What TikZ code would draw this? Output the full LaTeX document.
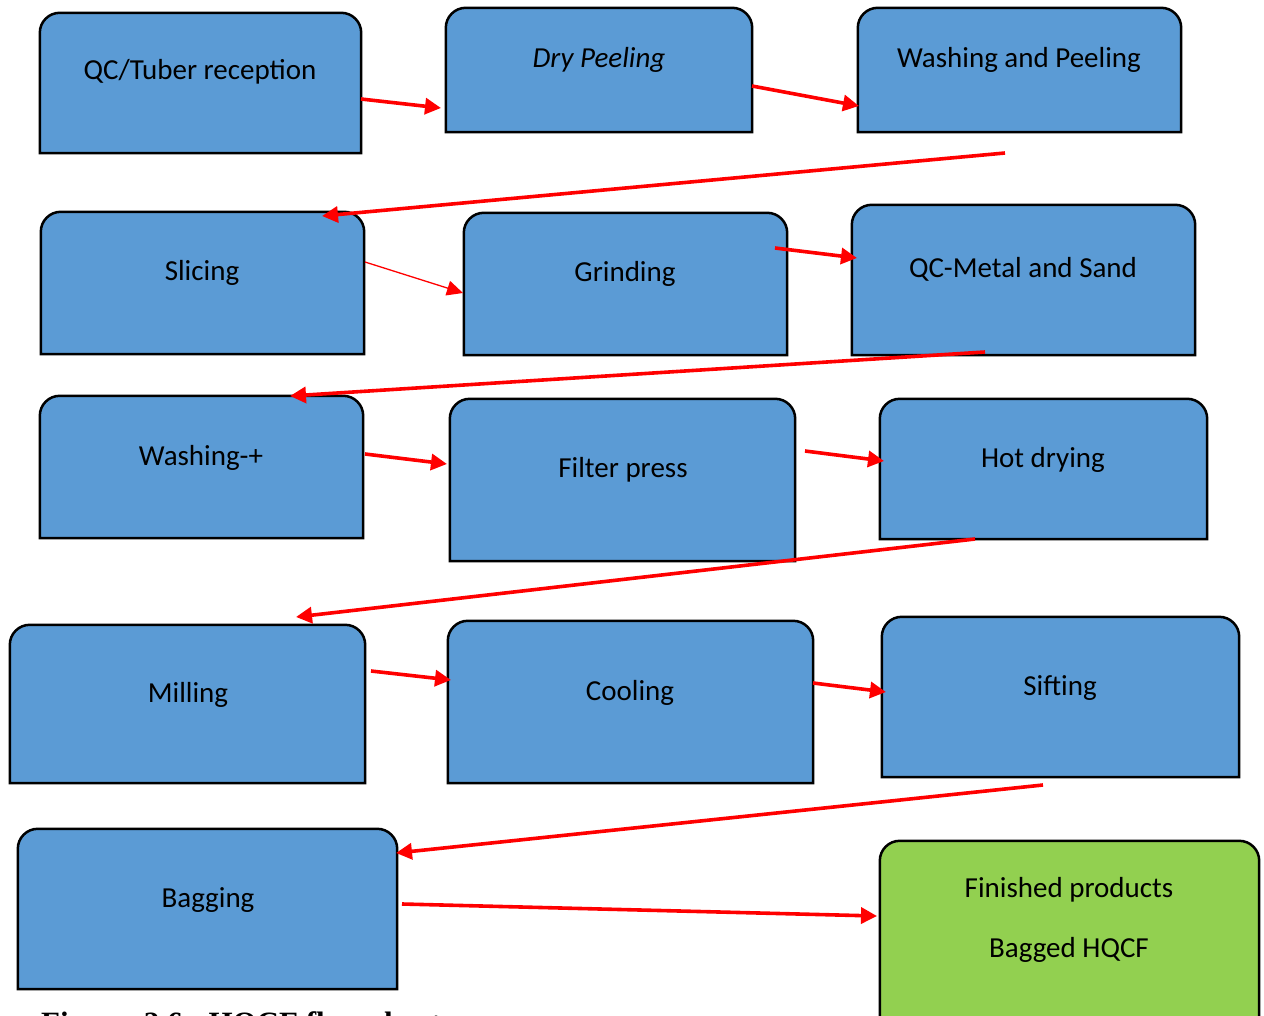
\documentclass[tikz,border=0pt]{standalone}
\usepackage{fontspec}
\setmainfont{Carlito}
\newfontfamily\capfont{Liberation Serif}
\usetikzlibrary{arrows.meta,fit,calc}
\definecolor{boxblue}{HTML}{5B9BD5}
\definecolor{boxgreen}{HTML}{92D050}
\definecolor{arrowred}{HTML}{FF0000}
\tikzset{
  shapeline/.style={draw=black, line width=2.5pt},
  txt/.style={font=\fontsize{29}{34}\selectfont, inner sep=0pt, anchor=base},
  flow/.style={draw=arrowred, line width=3.6pt, -{Triangle[length=16pt,width=16pt]}},
  thinflow/.style={draw=arrowred, line width=1.3pt, -{Triangle[length=16pt,width=15pt]}},
  captxt/.style={font=\capfont\bfseries\fontsize{31}{36}\selectfont, inner sep=0pt, anchor=base west},
}
\newcommand\procbox[6]{%
  \node[fit={(#2,-#3) (#4,-#5)}, inner sep=0pt] (#1) {};
  \draw[shapeline, fill=#6] (#1.south west) -- ([yshift=-20pt]#1.north west)
    arc[start angle=180,end angle=90,radius=20pt] -- ([xshift=-20pt]#1.north east)
    arc[start angle=90,end angle=0,radius=20pt] -- (#1.south east) -- cycle;
}
\begin{document}
\begin{tikzpicture}[x=1pt,y=1pt]
\useasboundingbox (0,0) rectangle (1264,-1016);
\fill[white] (0,0) rectangle (1264,-1016);

\procbox{qc}{40}{13}{361}{153}{boxblue}
\procbox{dry}{446}{8}{752}{132}{boxblue}
\procbox{wash}{858}{8}{1181}{132}{boxblue}
\procbox{slice}{41}{212}{364}{354}{boxblue}
\procbox{grind}{464}{213}{787}{355}{boxblue}
\procbox{metal}{852}{205}{1195}{355}{boxblue}
\procbox{washb}{40}{396}{363}{538}{boxblue}
\procbox{filter}{450}{399}{795}{561}{boxblue}
\procbox{hot}{880}{399}{1207}{539}{boxblue}
\procbox{mill}{10}{625}{365}{783}{boxblue}
\procbox{cool}{448}{621}{813}{783}{boxblue}
\procbox{sift}{882}{617}{1239}{777}{boxblue}
\procbox{bag}{18}{829}{397}{989}{boxblue}
\procbox{fin}{880}{841}{1259}{1040}{boxgreen}

\node[txt] (qct) at (200,-80) {QC/Tuber reception};
\node[txt] (dryt) at (599,-68) {\itshape Dry Peeling};
\node[txt] (washt) at (1019,-68) {Washing and Peeling};
\node[txt] (slicet) at (202,-281) {Slicing};
\node[txt] (grindt) at (625,-282) {Grinding};
\node[txt] (metalt) at (1023,-278) {QC-Metal and Sand};
\node[txt] (washbt) at (201,-465) {Washing-+};
\node[txt] (filtert) at (623,-477) {Filter press};
\node[txt] (hott) at (1043,-467) {Hot drying};
\node[txt] (millt) at (188,-702) {Milling};
\node[txt] (coolt) at (630,-700) {Cooling};
\node[txt] (siftt) at (1060,-695) {Sifting};
\node[txt] (bagt) at (208,-907) {Bagging};
\node[txt] (fint) at (1069,-897) {Finished products};
\node[txt] (fint2) at (1069,-957) {Bagged HQCF};

\node[captxt] (cap) at (41,-1033) {Figure\ \ 2.6:\ \ HQCF flow chart};

% arrow end points
\coordinate (a1s) at (361,-99);   \coordinate (a1e) at (441,-108);
\coordinate (a2s) at (752,-86);   \coordinate (a2e) at (859,-106);
\coordinate (a3s) at (1005,-153); \coordinate (a3e) at (322,-216);
\coordinate (a4s) at (365,-262);  \coordinate (a4e) at (463,-293);
\coordinate (a5s) at (775,-248);  \coordinate (a5e) at (857,-258);
\coordinate (a6s) at (985,-352);  \coordinate (a6e) at (290,-396);
\coordinate (a7s) at (365,-454);  \coordinate (a7e) at (447,-464);
\coordinate (a8s) at (805,-451);  \coordinate (a8e) at (884,-461);
\coordinate (a9s) at (975,-539);  \coordinate (a9e) at (296,-617);
\coordinate (a10s) at (371,-671); \coordinate (a10e) at (451,-680);
\coordinate (a11s) at (813,-683); \coordinate (a11e) at (886,-692);
\coordinate (a12s) at (1043,-785);\coordinate (a12e) at (396,-853);
\coordinate (a13s) at (402,-904); \coordinate (a13e) at (877,-916);

\draw[flow] (a1s) -- (a1e);
\draw[flow] (a2s) -- (a2e);
\draw[flow] (a3s) -- (a3e);
\draw[thinflow] (a4s) -- (a4e);
\draw[flow] (a5s) -- (a5e);
\draw[flow] (a6s) -- (a6e);
\draw[flow] (a7s) -- (a7e);
\draw[flow] (a8s) -- (a8e);
\draw[flow] (a9s) -- (a9e);
\draw[flow] (a10s) -- (a10e);
\draw[flow] (a11s) -- (a11e);
\draw[flow] (a12s) -- (a12e);
\draw[flow] (a13s) -- (a13e);
\end{tikzpicture}
\end{document}
